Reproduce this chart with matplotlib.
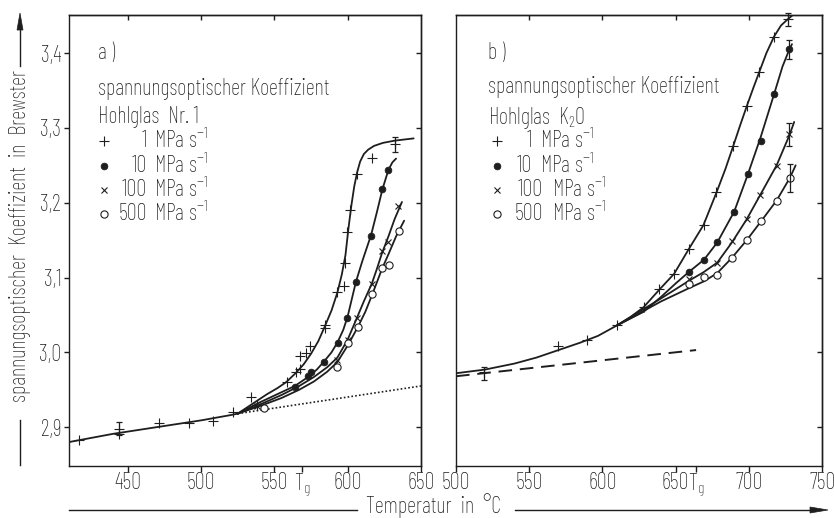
import matplotlib
matplotlib.use("Agg")
import matplotlib.pyplot as plt
from matplotlib import font_manager as fm
from matplotlib.lines import Line2D
from matplotlib.patches import Polygon

# ---------------- data ----------------
# Panel a: Hohlglas Nr. 1
a_base_x = [410, 440, 470, 500, 520, 525]
a_base_y = [2.880, 2.891, 2.900, 2.909, 2.916, 2.918]
a_dot_x = [525, 650]
a_dot_y = [2.918, 2.955]

a_c1_x = [525, 535, 545, 552, 558, 565, 570, 575, 580, 584.5, 589, 593, 596, 598.5, 600.5, 602.5, 604.5, 606.5, 608.5, 611, 614, 618, 624, 632, 645]
a_c1_y = [2.918, 2.931, 2.944, 2.952, 2.960, 2.973, 2.984, 2.998, 3.015, 3.035, 3.056, 3.080, 3.104, 3.130, 3.165, 3.196, 3.222, 3.241, 3.255, 3.265, 3.271, 3.276, 3.280, 3.283, 3.286]
a_c2_x = [525, 540, 552, 564, 573, 579, 584, 589, 593, 597, 600, 605.6, 610, 616, 620, 623.7, 627.8, 630.5, 633]
a_c2_y = [2.918, 2.933, 2.944, 2.955, 2.967, 2.977, 2.988, 3.000, 3.013, 3.030, 3.048, 3.094, 3.122, 3.157, 3.188, 3.218, 3.244, 3.254, 3.259]
a_c3_x = [525, 540, 555, 567, 577, 586, 593, 600, 606.3, 611, 616.5, 620, 623.3, 627.8, 632, 637]
a_c3_y = [2.918, 2.930, 2.943, 2.955, 2.967, 2.980, 2.993, 3.017, 3.046, 3.068, 3.092, 3.112, 3.132, 3.155, 3.178, 3.201]
a_c4_x = [525, 540, 555, 567, 577, 586, 593, 600, 607, 612, 616.5, 620, 623.5, 628, 633, 638.5]
a_c4_y = [2.918, 2.928, 2.939, 2.950, 2.961, 2.974, 2.987, 3.009, 3.034, 3.054, 3.076, 3.094, 3.112, 3.132, 3.155, 3.176]

a_p1_x = [417, 443.9, 443.9, 471.3, 492, 508, 521.5, 534.3, 538, 558.3, 564.9, 567.8, 567.2, 571.7, 574.6, 584.4, 584.8, 592.7, 597.2, 598.4, 599.5, 601.8, 606.3, 616.4, 632.3]
a_p1_y = [2.883, 2.898, 2.891, 2.906, 2.906, 2.908, 2.920, 2.940, 2.929, 2.960, 2.974, 2.978, 2.995, 2.999, 3.009, 3.037, 3.033, 3.080, 3.088, 3.120, 3.161, 3.190, 3.239, 3.260, 3.278]
a_p2_x = [564, 573, 574.7, 584, 593.2, 599.5, 605.6, 616, 623.7, 627.8]
a_p2_y = [2.954, 2.969, 2.974, 2.987, 3.013, 3.046, 3.094, 3.155, 3.218, 3.244]
a_p3_x = [538, 592.7, 600, 606.3, 616.5, 623.3, 627.8, 634.6]
a_p3_y = [2.928, 2.990, 3.016, 3.046, 3.092, 3.136, 3.148, 3.196]
a_p4_x = [543, 593, 600, 607, 616.5, 623.5, 628.2, 635]
a_p4_y = [2.926, 2.980, 3.012, 3.034, 3.078, 3.113, 3.117, 3.162]
a_err_x = [443.9, 632.3]
a_err_lo = [2.889, 3.268]
a_err_hi = [2.907, 3.288]

# Panel b: Hohlglas K2O
b_base_x = [500, 520, 540, 555, 570, 585, 597, 610]
b_base_y = [2.972, 2.977, 2.985, 2.993, 3.003, 3.013, 3.022, 3.036]
b_dash_x = [500, 664]
b_dash_y = [2.968, 3.003]

b_c1_x = [610, 619, 628, 639, 649, 659, 669, 678, 684, 689.4, 694, 698.6, 703, 707.2, 712, 717.2, 722, 727, 729.5]
b_c1_y = [3.036, 3.047, 3.060, 3.084, 3.105, 3.138, 3.170, 3.214, 3.245, 3.276, 3.303, 3.329, 3.353, 3.375, 3.400, 3.422, 3.437, 3.446, 3.450]
b_c2_x = [610, 620, 628, 640, 650, 659.4, 669.5, 678.5, 690, 699, 708, 717.4, 723, 727.7, 729.5]
b_c2_y = [3.036, 3.046, 3.054, 3.074, 3.092, 3.108, 3.124, 3.147, 3.188, 3.236, 3.287, 3.346, 3.382, 3.405, 3.412]
b_c3_x = [610, 625, 640, 659.4, 669, 678.5, 688.5, 698.6, 707.7, 719, 727.7, 731]
b_c3_y = [3.036, 3.054, 3.072, 3.096, 3.107, 3.120, 3.147, 3.178, 3.210, 3.250, 3.290, 3.308]
b_c4_x = [610, 625, 640, 659.4, 669.5, 678.5, 688.3, 698.6, 708.3, 719, 728, 732]
b_c4_y = [3.036, 3.052, 3.068, 3.086, 3.095, 3.106, 3.126, 3.150, 3.175, 3.203, 3.233, 3.250]

b_p1_x = [519.3, 569.5, 589.3, 609.7, 628.2, 638.8, 648.8, 659, 669.2, 677.8, 689.4, 698.6, 707.2, 717.2, 727]
b_p1_y = [2.974, 3.008, 3.016, 3.036, 3.060, 3.084, 3.105, 3.138, 3.170, 3.214, 3.276, 3.329, 3.375, 3.422, 3.446]
b_p2_x = [659.4, 669.5, 678.5, 690, 699.2, 708.1, 717.4, 727.7]
b_p2_y = [3.108, 3.124, 3.147, 3.188, 3.238, 3.282, 3.346, 3.405]
b_p3_x = [659.4, 678.5, 688.5, 698.6, 707.7, 719, 727.7]
b_p3_y = [3.098, 3.119, 3.149, 3.178, 3.210, 3.249, 3.292]
b_p4_x = [659.4, 669.6, 678.5, 688.3, 698.6, 708.3, 719, 728.1]
b_p4_y = [3.092, 3.101, 3.104, 3.126, 3.150, 3.175, 3.202, 3.233]
b_err_x = [519.3, 727, 727.7, 727.7, 728.1]
b_err_lo = [2.963, 3.436, 3.392, 3.276, 3.214]
b_err_hi = [2.980, 3.454, 3.418, 3.307, 3.252]

y_ticks = [2.9, 3.0, 3.1, 3.2, 3.3, 3.4]
y_labels = ["2,9", "3,0", "3,1", "3,2", "3,3", "3,4"]
a_xticks = [450, 500, 550, 568.7, 600, 650]
a_xlabels = ["450", "500", "550", "T$_\\mathrm{g}$", "600", "650"]
b_xticks = [500, 550, 600, 650, 664, 700, 750]
b_xlabels = ["500", "550", "600", "650", "T$_\\mathrm{g}$", "700", "750"]
rates = ["1", "10", "100", "500"]

# ---------------- style ----------------
names = {f.name for f in fm.fontManager.ttflist}
prefs = ["Barlow Condensed", "Barlow Semi Condensed", "Roboto Condensed", "Liberation Sans Narrow",
         "PT Sans Narrow", "Archivo Narrow", "Open Sans Condensed", "Encode Sans Condensed", "DejaVu Sans"]
main = next(p for p in prefs if p in names)
plt.rcParams["font.family"] = [main, "DejaVu Sans"]
plt.rcParams["font.weight"] = "light" if main.startswith("Barlow") else "normal"
plt.rcParams["mathtext.fontset"] = "custom"
plt.rcParams["mathtext.rm"] = main + ":light" if main.startswith("Barlow") else main
plt.rcParams["mathtext.it"] = plt.rcParams["mathtext.rm"]
plt.rcParams["mathtext.bf"] = main
INK = "#1e1e1e"

fig = plt.figure(figsize=(8.34, 5.18), dpi=100)
W, H = 834, 518

# scale font so the reference phrase has the reference width (~232 px)
_t = fig.text(0, 0, "spannungsoptischer Koeffizient", fontsize=14)
_w = _t.get_window_extent(renderer=fig.canvas.get_renderer()).width
_t.remove()
FS = max(10.5, min(17, 14 * 232 / _w))


def axes_px(x0, x1, y0, y1):
    return fig.add_axes([x0 / W, 1 - y1 / H, (x1 - x0) / W, (y1 - y0) / H])


axA = axes_px(69, 421, 15, 466)
axB = axes_px(456, 822, 15, 466)

CURVE_KW = dict(color=INK, lw=1.3, solid_capstyle="round")
MK = {
    "+": dict(marker="+", ms=7, mew=0.8, mec=INK, ls="none"),
    "o": dict(marker="o", ms=4.8, mfc=INK, mec=INK, mew=0.6, ls="none"),
    "x": dict(marker="x", ms=4.6, mew=0.8, mec=INK, ls="none"),
    "c": dict(marker="o", ms=5.2, mfc="white", mec=INK, mew=0.8, ls="none"),
}
mk_order = ["+", "o", "x", "c"]
CAP = 2.0  # half width of error-bar caps in x data units

for ax in (axA, axB):
    for s in ax.spines.values():
        s.set_linewidth(1.0)
        s.set_color(INK)
    ax.set_ylim(2.848, 3.451)
    ax.set_yticks(y_ticks)

axA.set_xlim(410, 650)
axB.set_xlim(500, 750)

# Panel a
axA.plot(a_base_x, a_base_y, **CURVE_KW)
axA.plot(a_dot_x, a_dot_y, color=INK, lw=1.2, ls=(0, (1, 1.3)))
for cx, cy in [(a_c1_x, a_c1_y), (a_c2_x, a_c2_y), (a_c3_x, a_c3_y), (a_c4_x, a_c4_y)]:
    axA.plot(cx, cy, **CURVE_KW)
for (px, py), m in zip([(a_p1_x, a_p1_y), (a_p2_x, a_p2_y), (a_p3_x, a_p3_y), (a_p4_x, a_p4_y)], mk_order):
    axA.plot(px, py, **MK[m])
axA.vlines(a_err_x, a_err_lo, a_err_hi, color=INK, lw=0.9)
axA.hlines(a_err_lo + a_err_hi, [x - CAP for x in a_err_x * 2], [x + CAP for x in a_err_x * 2], color=INK, lw=0.9)

# Panel b
axB.plot(b_base_x, b_base_y, **CURVE_KW)
axB.plot(b_dash_x, b_dash_y, color=INK, lw=1.4, ls=(0, (7, 4)))
for cx, cy in [(b_c1_x, b_c1_y), (b_c2_x, b_c2_y), (b_c3_x, b_c3_y), (b_c4_x, b_c4_y)]:
    axB.plot(cx, cy, **CURVE_KW)
for (px, py), m in zip([(b_p1_x, b_p1_y), (b_p2_x, b_p2_y), (b_p3_x, b_p3_y), (b_p4_x, b_p4_y)], mk_order):
    axB.plot(px, py, **MK[m])
axB.vlines(b_err_x, b_err_lo, b_err_hi, color=INK, lw=0.9, clip_on=False)
axB.hlines(b_err_lo + b_err_hi, [x - CAP for x in b_err_x * 2], [x + CAP for x in b_err_x * 2], color=INK, lw=0.9, clip_on=False)

# Ticks (lengths in points)
axA.set_yticklabels(y_labels)
axA.tick_params(axis="y", direction="out", length=3.6, width=1.0, pad=2, labelsize=FS, colors=INK)
axA.set_xticks(a_xticks)
axA.set_xticklabels(a_xlabels)
axA.tick_params(axis="x", direction="out", length=4.3, width=1.0, pad=0, labelsize=FS, colors=INK)
axB.set_xticks(b_xticks)
axB.set_xticklabels(b_xlabels)
axB.tick_params(axis="x", direction="out", length=4.3, width=1.0, pad=0, labelsize=FS, colors=INK)
axB.tick_params(axis="y", left=False, labelleft=False)

for ax, tops in ((axA, [450, 500, 550, 600]), (axB, [550, 600, 650, 700])):
    sx = ax.secondary_xaxis("top")
    sx.set_xticks(tops)
    sx.tick_params(direction="in", length=3.8, width=1.0, labeltop=False, colors=INK)
    sy = ax.secondary_yaxis("right")
    sy.set_yticks(y_ticks)
    sy.tick_params(direction="in", length=3.8, width=1.0, labelright=False, colors=INK)
    for s in list(sx.spines.values()) + list(sy.spines.values()):
        s.set_linewidth(1.0)
        s.set_color(INK)


# In-panel annotations (positions in axes pixel coordinates)
def panel_text(ax, x_px, y_px, s, ha="left"):
    bb = ax.get_position()
    ax.text(x_px / (bb.width * W), 1 - y_px / (bb.height * H), s, transform=ax.transAxes,
            ha=ha, va="center", fontsize=FS, color=INK)


def panel_marker(ax, x_px, y_px, m):
    bb = ax.get_position()
    ax.plot([x_px / (bb.width * W)], [1 - y_px / (bb.height * H)], transform=ax.transAxes, **MK[m])


rows_y = [126, 151, 175, 199]
# panel a (axes origin at x=69, y=15)
panel_text(axA, 29, 38, "a )")
panel_text(axA, 29, 74, "spannungsoptischer Koeffizient")
panel_text(axA, 29, 102, "Hohlglas  Nr. 1")
for r, yy, m in zip(rates, rows_y, mk_order):
    panel_marker(axA, 35, yy, m)
    panel_text(axA, 78, yy, r, ha="right")
    panel_text(axA, 85, yy, "MPa s$^{-1}$")
# panel b (axes origin at x=456)
panel_text(axB, 32, 38, "b )")
panel_text(axB, 32, 72, "spannungsoptischer Koeffizient")
panel_text(axB, 32, 103, "Hohlglas  K$_2$O")
b_num_right = [76, 76, 87, 87]
b_unit_left = [84, 84, 96, 96]
for r, yy, m, nr, ul in zip(rates, rows_y, mk_order, b_num_right, b_unit_left):
    panel_marker(axB, 41, yy, m)
    panel_text(axB, nr, yy, r, ha="right")
    panel_text(axB, ul, yy, "MPa s$^{-1}$")


# Axis titles with lines and arrows (figure pixels, origin top-left in reference)
def fline(x0, y0, x1, y1):
    fig.add_artist(Line2D([x0 / W, x1 / W], [1 - y0 / H, 1 - y1 / H], transform=fig.transFigure,
                          color=INK, lw=1.0))


def farrow(tip, base_center, half_w, vertical):
    tx, ty = tip
    bx, by = base_center
    if vertical:
        pts = [(tx, ty), (bx - half_w, by), (bx + half_w, by)]
    else:
        pts = [(tx, ty), (bx, by - half_w), (bx, by + half_w)]
    pts = [(x / W, 1 - y / H) for x, y in pts]
    fig.add_artist(Polygon(pts, closed=True, transform=fig.transFigure, facecolor=INK, edgecolor=INK, lw=0.5))


fig.text(20 / W, 1 - 236 / H, "spannungsoptischer  Koeffizient  in  Brewster", rotation=90,
         ha="center", va="center", fontsize=FS, color=INK)
fline(20, 465, 20, 420)
fline(20, 66, 20, 26)
farrow((20, 13), (20, 30), 3, True)

fig.text(434 / W, 1 - 506 / H, "Temperatur  in  °C", ha="center", va="center", fontsize=FS, color=INK)
fline(69, 510, 357, 510)
fline(515, 510, 812, 510)
farrow((828, 510), (810, 510), 3, False)

fig.savefig("out.png", dpi=100)
